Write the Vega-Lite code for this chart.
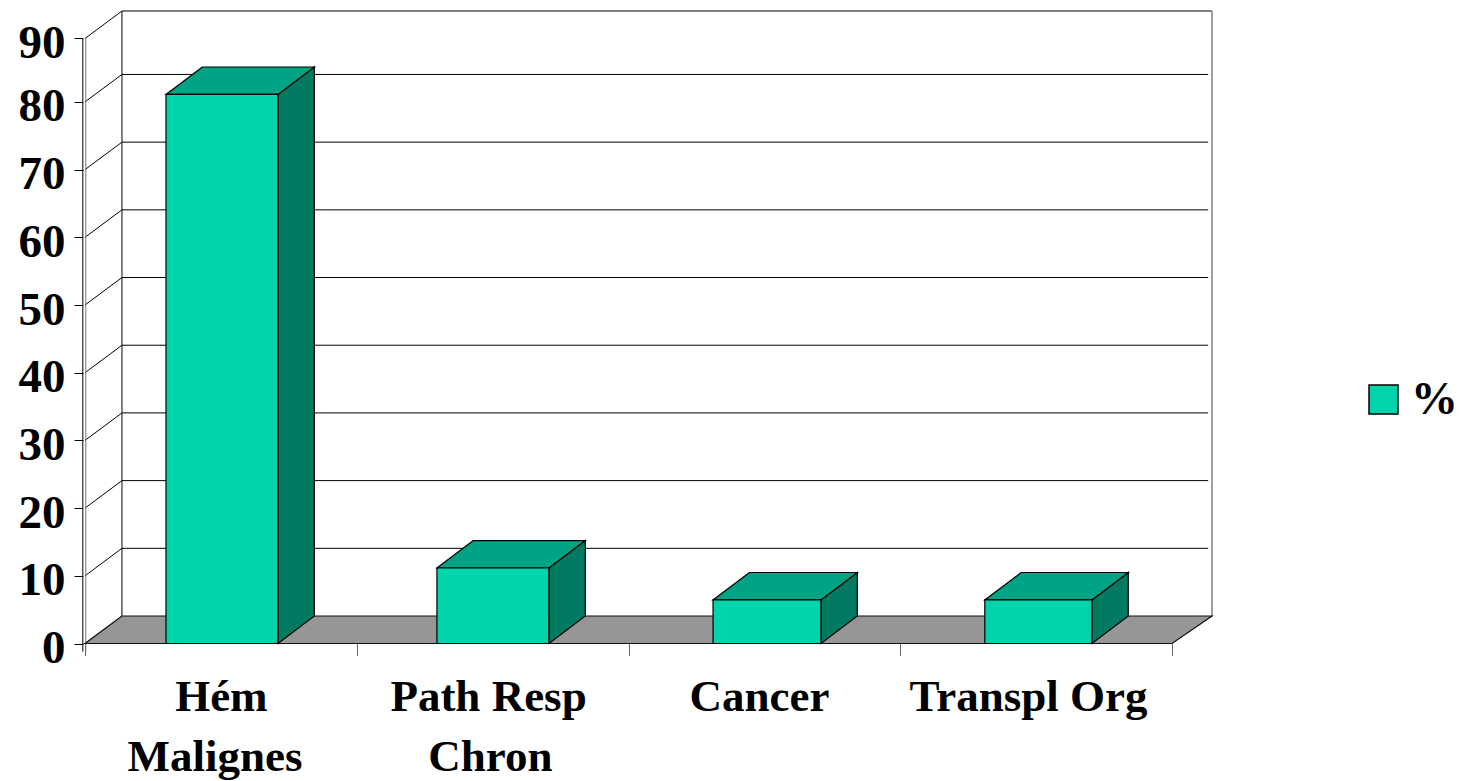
{
  "$schema": "https://vega.github.io/schema/vega-lite/v6.json",
  "width": 1127,
  "height": 632.5,
  "autosize": "none",
  "padding": {"left": 85, "top": 11, "right": 251, "bottom": 137.5},
  "background": "white",
  "config": {"view": {"stroke": null}},
  "datasets": {
    "bars": [
      {"category": "Hém Malignes", "series": "%", "value": 81.1, "left": 0.298, "right": 0.71},
      {"category": "Path Resp Chron", "series": "%", "value": 11.15, "left": 1.295, "right": 1.707},
      {"category": "Cancer", "series": "%", "value": 6.43, "left": 2.311, "right": 2.708},
      {"category": "Transpl Org", "series": "%", "value": 6.43, "left": 3.311, "right": 3.705}
    ],
    "sides": [
      {"category": "Hém Malignes", "depth": 0.71, "low": 0, "high": 81.1},
      {"category": "Hém Malignes", "depth": 0.844, "low": 4.06, "high": 85.16},
      {"category": "Path Resp Chron", "depth": 1.707, "low": 0, "high": 11.15},
      {"category": "Path Resp Chron", "depth": 1.841, "low": 4.06, "high": 15.21},
      {"category": "Cancer", "depth": 2.708, "low": 0, "high": 6.43},
      {"category": "Cancer", "depth": 2.842, "low": 4.06, "high": 10.49},
      {"category": "Transpl Org", "depth": 3.705, "low": 0, "high": 6.43},
      {"category": "Transpl Org", "depth": 3.839, "low": 4.06, "high": 10.49}
    ],
    "tops": [
      {"category": "Hém Malignes", "level": 81.1, "start": 0.298, "end": 0.71},
      {"category": "Hém Malignes", "level": 85.16, "start": 0.432, "end": 0.844},
      {"category": "Path Resp Chron", "level": 11.15, "start": 1.295, "end": 1.707},
      {"category": "Path Resp Chron", "level": 15.21, "start": 1.429, "end": 1.841},
      {"category": "Cancer", "level": 6.43, "start": 2.311, "end": 2.708},
      {"category": "Cancer", "level": 10.49, "start": 2.445, "end": 2.842},
      {"category": "Transpl Org", "level": 6.43, "start": 3.311, "end": 3.705},
      {"category": "Transpl Org", "level": 10.49, "start": 3.445, "end": 3.839}
    ],
    "floor": [
      {"level": 0, "start": 0, "end": 4},
      {"level": 4.06, "start": 0.136, "end": 4.147}
    ],
    "grid": [
      {"tick": 10, "back": 14.06},
      {"tick": 20, "back": 24.06},
      {"tick": 30, "back": 34.06},
      {"tick": 40, "back": 44.06},
      {"tick": 50, "back": 54.06},
      {"tick": 60, "back": 64.06},
      {"tick": 70, "back": 74.06},
      {"tick": 80, "back": 84.06}
    ],
    "wallTop": [
      {"tick": 89.37, "back": 93.43}
    ],
    "verticals": [
      {"from": 4.06, "to": 93.43}
    ],
    "frontAxis": [
      {"from": -1.2, "to": 89.37}
    ]
  },
  "resolve": {"axis": {"x": "independent", "y": "independent"}},
  "layer": [
    {
      "description": "Back wall grid lines, with the y axis",
      "data": {"name": "grid"},
      "mark": {"type": "rule", "stroke": "#000000", "strokeWidth": 1},
      "encoding": {
        "x": {
          "datum": 0.136,
          "type": "quantitative",
          "scale": {"domain": [0, 4.147], "nice": false, "zero": false},
          "axis": {
            "orient": "bottom",
            "values": [0, 1, 2, 3, 4],
            "labels": false,
            "grid": false,
            "domain": false,
            "title": null,
            "tickSize": 12,
            "tickColor": "#666666",
            "tickWidth": 1
          }
        },
        "x2": {"datum": 4.133},
        "y": {
          "field": "back",
          "type": "quantitative",
          "scale": {"domain": [0, 93.43], "nice": false, "zero": false},
          "axis": {
            "orient": "left",
            "values": [0, 10, 20, 30, 40, 50, 60, 70, 80, 89.37],
            "labelExpr": "ceil(datum.value / 10) * 10",
            "grid": false,
            "domain": false,
            "title": null,
            "offset": 2,
            "tickSize": 9,
            "tickColor": "#000000",
            "tickWidth": 1,
            "labelFont": "Liberation Serif",
            "labelFontWeight": "bold",
            "labelFontSize": 47,
            "labelColor": "#000000",
            "labelPadding": 9,
            "labelOffset": 5,
            "labelOverlap": false
          }
        }
      }
    },
    {
      "description": "Top edge of the back wall",
      "data": {"name": "wallTop"},
      "mark": {"type": "rule", "stroke": "#000000", "strokeWidth": 1},
      "encoding": {
        "x": {"datum": 0.136, "type": "quantitative", "axis": null},
        "x2": {"datum": 4.147},
        "y": {"field": "back", "type": "quantitative", "axis": null}
      }
    },
    {
      "description": "Diagonal grid lines on the left wall",
      "data": {"name": "grid"},
      "mark": {"type": "rule", "stroke": "#000000", "strokeWidth": 1},
      "encoding": {
        "x": {"datum": 0, "type": "quantitative", "axis": null},
        "x2": {"datum": 0.136},
        "y": {"field": "tick", "type": "quantitative", "axis": null},
        "y2": {"field": "back"}
      }
    },
    {
      "description": "Top diagonal of the left wall",
      "data": {"name": "wallTop"},
      "mark": {"type": "rule", "stroke": "#000000", "strokeWidth": 1},
      "encoding": {
        "x": {"datum": 0, "type": "quantitative", "axis": null},
        "x2": {"datum": 0.136},
        "y": {"field": "tick", "type": "quantitative", "axis": null},
        "y2": {"field": "back"}
      }
    },
    {
      "description": "Left wall corner",
      "data": {"name": "verticals"},
      "mark": {"type": "rule", "stroke": "#000000", "strokeWidth": 1},
      "encoding": {
        "x": {"datum": 0.136, "type": "quantitative", "axis": null},
        "y": {"field": "from", "type": "quantitative", "axis": null},
        "y2": {"field": "to"}
      }
    },
    {
      "description": "Right wall edge",
      "data": {"name": "verticals"},
      "mark": {"type": "rule", "stroke": "#808080", "strokeWidth": 1.5},
      "encoding": {
        "x": {"datum": 4.147, "type": "quantitative", "axis": null},
        "y": {"field": "from", "type": "quantitative", "axis": null},
        "y2": {"field": "to"}
      }
    },
    {
      "description": "Front vertical axis, a dark line and its paler twin",
      "data": {"name": "frontAxis"},
      "mark": {"type": "rule", "stroke": "#000000", "strokeWidth": 1},
      "encoding": {
        "x": {"datum": -0.008, "type": "quantitative", "axis": null},
        "y": {"field": "from", "type": "quantitative", "axis": null},
        "y2": {"field": "to"}
      }
    },
    {
      "data": {"name": "frontAxis"},
      "mark": {"type": "rule", "stroke": "#777777", "strokeWidth": 1},
      "encoding": {
        "x": {"datum": 0.003, "type": "quantitative", "axis": null},
        "y": {"field": "from", "type": "quantitative", "axis": null},
        "y2": {"field": "to"}
      }
    },
    {
      "description": "Grey floor of the box",
      "data": {"name": "floor"},
      "mark": {"type": "area", "orient": "horizontal", "fill": "#969696", "stroke": "#111111", "strokeWidth": 1.2},
      "encoding": {
        "y": {"field": "level", "type": "quantitative", "axis": null},
        "x": {"field": "start", "type": "quantitative", "axis": null},
        "x2": {"field": "end"}
      }
    },
    {
      "description": "Bar side faces",
      "data": {"name": "sides"},
      "mark": {"type": "area", "orient": "vertical", "fill": "#007A60", "stroke": "#000000", "strokeWidth": 1.2},
      "encoding": {
        "detail": {"field": "category"},
        "x": {"field": "depth", "type": "quantitative", "axis": null},
        "y": {"field": "low", "type": "quantitative", "axis": null},
        "y2": {"field": "high"}
      }
    },
    {
      "description": "Bar top faces",
      "data": {"name": "tops"},
      "mark": {"type": "area", "orient": "horizontal", "fill": "#00A484", "stroke": "#000000", "strokeWidth": 1.2},
      "encoding": {
        "detail": {"field": "category"},
        "y": {"field": "level", "type": "quantitative", "axis": null},
        "x": {"field": "start", "type": "quantitative", "axis": null},
        "x2": {"field": "end"}
      }
    },
    {
      "description": "Bar front faces, with the legend and the first line of each category label",
      "data": {"name": "bars"},
      "mark": {"type": "rect", "stroke": "#000000", "strokeWidth": 1.2},
      "encoding": {
        "x": {
          "field": "left",
          "type": "quantitative",
          "axis": {
            "orient": "bottom",
            "values": [0.5, 1.483, 2.48, 3.47],
            "labelExpr": "datum.value < 1 ? 'Hém' : datum.value < 2 ? 'Path Resp' : datum.value < 3 ? 'Cancer' : 'Transpl Org'",
            "ticks": false,
            "grid": false,
            "domain": false,
            "title": null,
            "labelFont": "Liberation Serif",
            "labelFontWeight": "bold",
            "labelFontSize": 45,
            "labelColor": "#000000",
            "labelPadding": 31,
            "labelLimit": 400,
            "labelOverlap": false
          }
        },
        "x2": {"field": "right"},
        "y": {"field": "value", "type": "quantitative", "axis": null},
        "y2": {"datum": 0},
        "color": {
          "field": "series",
          "type": "nominal",
          "scale": {"domain": ["%"], "range": ["#00D4AA"]},
          "legend": {
            "title": null,
            "orient": "none",
            "legendX": 1275,
            "legendY": 365,
            "symbolType": "square",
            "symbolSize": 840,
            "symbolStrokeColor": "#000000",
            "symbolStrokeWidth": 1.5,
            "labelFont": "Liberation Serif",
            "labelFontWeight": "bold",
            "labelFontSize": 47,
            "labelColor": "#000000",
            "labelOffset": 4
          }
        }
      }
    },
    {
      "description": "Second line of the two-line category labels",
      "data": {"name": "bars"},
      "mark": {"type": "rule", "opacity": 0},
      "encoding": {
        "x": {
          "field": "left",
          "type": "quantitative",
          "axis": {
            "orient": "bottom",
            "values": [0.4765, 1.49],
            "labelExpr": "datum.value < 1 ? 'Malignes' : 'Chron'",
            "ticks": false,
            "grid": false,
            "domain": false,
            "title": null,
            "labelFont": "Liberation Serif",
            "labelFontWeight": "bold",
            "labelFontSize": 45,
            "labelColor": "#000000",
            "labelPadding": 91,
            "labelLimit": 400,
            "labelOverlap": false
          }
        }
      }
    }
  ]
}
